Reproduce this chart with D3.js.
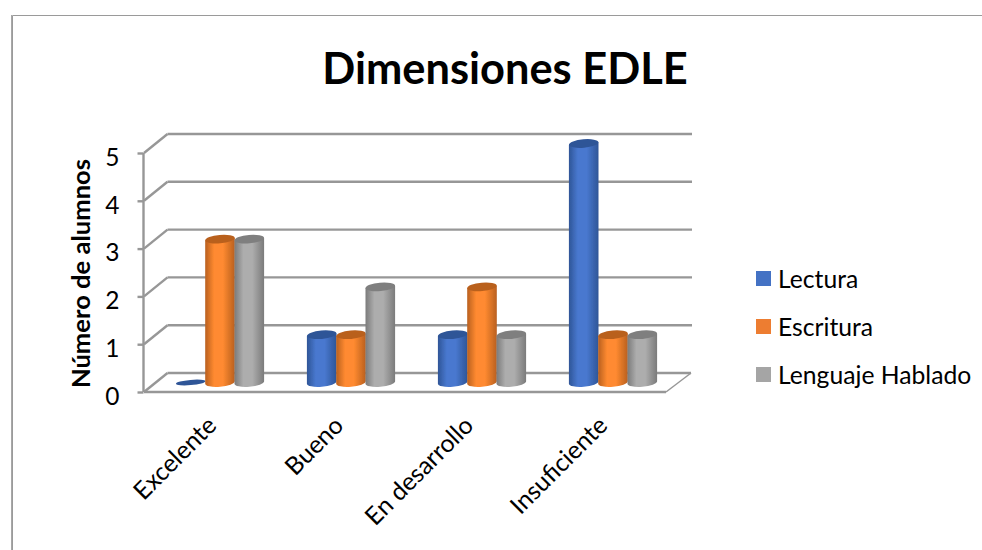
<!DOCTYPE html>
<html><head><meta charset="utf-8">
<script src="https://cdn.jsdelivr.net/npm/d3@7"></script>
<style>html,body{margin:0;padding:0;background:#fff}svg{display:block}text{font-family:Lato,"Open Sans",sans-serif;fill:#000}</style>
</head><body><div id="c"></div>
<script>
const categories=["Excelente","Bueno","En desarrollo","Insuficiente"];
const seriesNames=["Lectura","Escritura","Lenguaje Hablado"];
const lectura=[0,1,1,5];
const escritura=[3,1,2,1];
const lenguaje=[3,2,1,1];
const seriesValues=[lectura,escritura,lenguaje];
const tickValues=[0,1,2,3,4,5];
const palette=[
 {base:"#4472c4",light:"#4878cf",dark:"#2f5597",cap:"#2f5597"},
 {base:"#ed7d31",light:"#ff8a30",dark:"#b9601f",cap:"#b9601f"},
 {base:"#a5a5a5",light:"#adadad",dark:"#7b7b7b",cap:"#7f7f7f"}];

const svg=d3.select("#c").append("svg").attr("width",982).attr("height",550);
const defs=svg.append("defs");
palette.forEach((p,i)=>{
 const g=defs.append("linearGradient").attr("id","g"+i);
 [[0,p.dark],[.3,p.light],[.6,p.light],[1,p.dark]].forEach(s=>g.append("stop").attr("offset",s[0]).attr("stop-color",s[1]));
});
const blur=defs.append("filter").attr("id","soft").attr("x","-5%").attr("y","-5%").attr("width","110%").attr("height","110%");
blur.append("feGaussianBlur").attr("stdDeviation",.5);

// chart frame
svg.append("path").attr("d","M12.5,550V15.5H982").attr("fill","none").attr("stroke","#9a9a9a").attr("stroke-width",1);
svg.append("line").attr("x1",11.5).attr("x2",11.5).attr("y1",15).attr("y2",550).attr("stroke","#a8a8a8");

const yFront=d3.scaleLinear().domain([0,5]).range([392,153]);
const yBack=d3.scaleLinear().domain([0,5]).range([373,134]);
const yBar=d3.scaleLinear().domain([0,5]).range([382.5,143.5]);
const x0=d3.scaleBand().domain(categories).range([154.5,678.5]);
const sx=d3.scaleLinear().domain([-1,1]).range([-29.3,29.3]);
const cx=(c,s)=>x0(c)+x0.bandwidth()/2+sx(s-1);
const gridColor="#979797";

const grid=svg.append("g").attr("fill","none").attr("stroke",gridColor).attr("stroke-width",2.4);
tickValues.forEach(t=>{
 grid.append("line").attr("x1",167.5).attr("x2",t===0?691:692).attr("y1",yBack(t)).attr("y2",yBack(t));
 grid.append("line").attr("x1",144).attr("x2",167.5).attr("y1",yFront(t)).attr("y2",yBack(t));
});
// floor
svg.append("path").attr("d",`M666,${yFront(0)}L691,${yBack(0)}`).attr("stroke",gridColor).attr("stroke-width",1.5).attr("fill","none");
svg.append("line").attr("x1",144).attr("x2",666).attr("y1",yFront(0)).attr("y2",yFront(0)).attr("stroke",gridColor).attr("stroke-width",2.4);

// value axis via d3.axisLeft
const ax=svg.append("g").attr("transform","translate(143.5,0)").call(d3.axisLeft(yFront).tickValues(tickValues).tickSize(6).tickPadding(18).tickFormat(d3.format("d")));
ax.selectAll("path").attr("stroke",gridColor).attr("stroke-width",2.4).attr("d","M0,153V392");
ax.selectAll("line").attr("stroke",gridColor).attr("stroke-width",2.4);
ax.selectAll("text").attr("font-size",24.5).attr("dy","0.5em").style("font-family","Lato").attr("fill","#000");

// cylinders
const rx=14.8, ry=4.2;
const bars=svg.append("g").attr("filter","url(#soft)");
seriesNames.forEach((n,s)=>{
 categories.forEach((c,ci)=>{
  const v=seriesValues[s][ci], x=cx(c,s), y0=yBar(0), y1=yBar(v), p=palette[s];
  if(v>0){
   const dy=1.2;
   bars.append("path")
    .attr("d",`M${x-rx},${y1+dy}L${x-rx},${y0+dy}A${rx},${ry} -5 0 0 ${x+rx},${y0-dy}L${x+rx},${y1-dy}Z`)
    .attr("fill",`url(#g${s})`);
  }
  bars.append("ellipse").attr("cx",x).attr("cy",y1).attr("rx",rx).attr("ry",v>0?ry:2.6)
   .attr("transform",`rotate(-5 ${x} ${y1})`).attr("fill",p.cap);
 });
});

// category labels
categories.forEach((c,i)=>{
 const xp=x0(c)+x0.bandwidth()/2+[-2,-6,-7,-4][i];
 svg.append("text").attr("class","cat").attr("text-anchor","end").attr("font-size",24.7)
  .attr("transform",`translate(${xp},427) rotate(-45)`).text(c);
});

// titles
svg.append("text").attr("x",505).attr("y",84).attr("text-anchor","middle").attr("font-size",43.4).attr("font-weight",700).text("Dimensiones EDLE");
svg.append("text").attr("transform","translate(90,273.5) rotate(-90)").attr("text-anchor","middle").attr("font-size",25.6).attr("font-weight",700).text("Número de alumnos");

// legend
const ly=d3.scalePoint().domain(seriesNames).range([278.5,374.5]);
seriesNames.forEach((n,i)=>{
 svg.append("rect").attr("x",756).attr("y",ly(n)-7.5).attr("width",15).attr("height",15).attr("fill",palette[i].base);
 svg.append("text").attr("x",778).attr("y",ly(n)+9).attr("font-size",24.7).text(n);
});
</script></body></html>
